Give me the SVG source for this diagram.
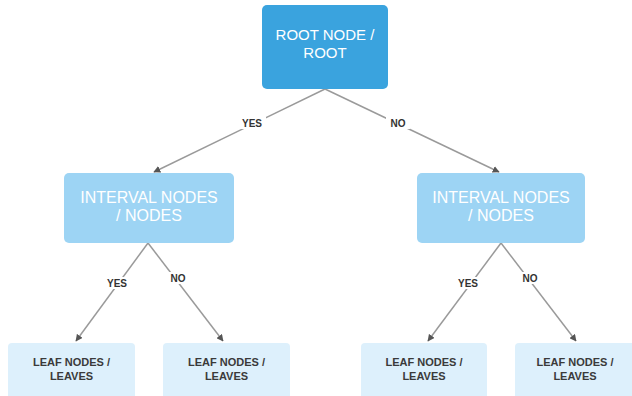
<svg xmlns="http://www.w3.org/2000/svg" width="632" height="396" viewBox="0 0 632 396">
<style>
.root{fill:#3aa3de}
.int{fill:#9dd4f4}
.leaf{fill:#ddf0fc}
.wt{fill:#ffffff;font-family:"Liberation Sans",Arial,sans-serif;text-anchor:middle}
.dt{fill:#3a3a3a;font-family:"Liberation Sans",Arial,sans-serif;font-weight:bold;text-anchor:middle;font-size:11px}
.ln{stroke:#9a9a9a;stroke-width:1.5;fill:none}
.lb{fill:#333333;font-family:"Liberation Sans",Arial,sans-serif;font-weight:bold;font-size:10px;text-anchor:middle}
.bg{fill:#ffffff}
</style>
<defs>
<marker id="ah" viewBox="0 0 10 10" refX="9" refY="5" markerWidth="7" markerHeight="7" orient="auto" markerUnits="userSpaceOnUse">
<path d="M0,0 L10,5 L0,10 z" fill="#555555"/>
</marker>
</defs>
<g id="connectors">
<line class="ln" x1="325" y1="89" x2="154" y2="172" marker-end="url(#ah)"/>
<line class="ln" x1="325" y1="89" x2="499" y2="172" marker-end="url(#ah)"/>
<line class="ln" x1="148" y1="243" x2="76" y2="341" marker-end="url(#ah)"/>
<line class="ln" x1="148" y1="243" x2="223" y2="341" marker-end="url(#ah)"/>
<line class="ln" x1="501" y1="243" x2="428" y2="341" marker-end="url(#ah)"/>
<line class="ln" x1="501" y1="243" x2="576" y2="341" marker-end="url(#ah)"/>
<rect class="bg" x="238" y="117" width="28" height="12"/>
<text class="lb" x="252" y="127">YES</text>
<rect class="bg" x="386" y="117" width="24" height="12"/>
<text class="lb" x="398" y="127">NO</text>
<rect class="bg" x="103" y="277" width="28" height="12"/>
<text class="lb" x="117" y="287">YES</text>
<rect class="bg" x="167" y="272" width="22" height="12"/>
<text class="lb" x="178" y="282">NO</text>
<rect class="bg" x="454" y="277" width="28" height="12"/>
<text class="lb" x="468" y="287">YES</text>
<rect class="bg" x="519" y="272" width="22" height="12"/>
<text class="lb" x="530" y="282">NO</text>
</g>
<g id="root">
<rect class="root" x="262" y="5" width="126" height="84" rx="5"/>
<text class="wt" x="325" y="40" font-size="15">ROOT NODE /</text>
<text class="wt" x="325" y="58" font-size="15">ROOT</text>
</g>
<g id="interval-left">
<rect class="int" x="64" y="173" width="170" height="70" rx="5"/>
<text class="wt" x="149" y="203" font-size="16">INTERVAL NODES</text>
<text class="wt" x="149" y="221" font-size="16">/ NODES</text>
</g>
<g id="interval-right">
<rect class="int" x="417" y="173" width="168" height="70" rx="5"/>
<text class="wt" x="501" y="203" font-size="16">INTERVAL NODES</text>
<text class="wt" x="501" y="221" font-size="16">/ NODES</text>
</g>
<g id="leaf-1">
<rect class="leaf" x="8" y="343" width="127" height="60" rx="4"/>
<text class="dt" x="71.5" y="366">LEAF NODES /</text>
<text class="dt" x="71.5" y="380">LEAVES</text>
</g>
<g id="leaf-2">
<rect class="leaf" x="163" y="343" width="127" height="60" rx="4"/>
<text class="dt" x="226.5" y="366">LEAF NODES /</text>
<text class="dt" x="226.5" y="380">LEAVES</text>
</g>
<g id="leaf-3">
<rect class="leaf" x="361" y="343" width="126" height="60" rx="4"/>
<text class="dt" x="424" y="366">LEAF NODES /</text>
<text class="dt" x="424" y="380">LEAVES</text>
</g>
<g id="leaf-4">
<rect class="leaf" x="515" y="343" width="125" height="60" rx="4"/>
<text class="dt" x="575" y="366">LEAF NODES /</text>
<text class="dt" x="575" y="380">LEAVES</text>
</g>
</svg>
